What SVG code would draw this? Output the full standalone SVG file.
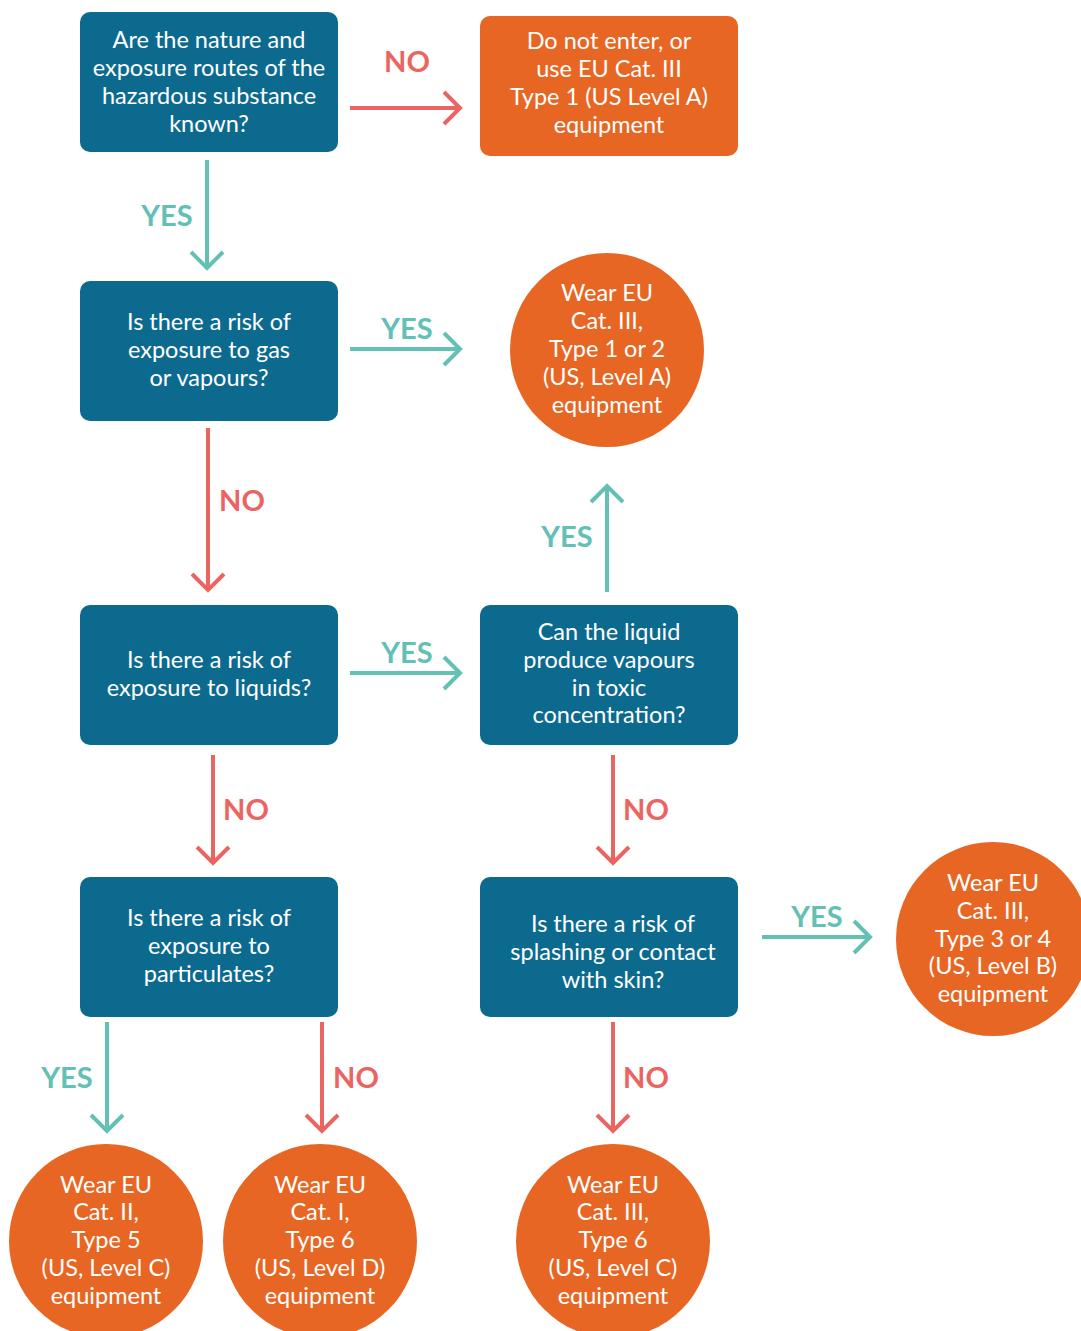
<svg xmlns="http://www.w3.org/2000/svg" width="1081" height="1331" viewBox="0 0 1081 1331">
<defs>
<style>
.q{fill:#0d6a8f}
.o{fill:#e86624}
.t{font-family:Lato,"Open Sans",sans-serif;font-size:23.5px;fill:#fff;text-anchor:middle}
.lb{font-family:Lato,"Open Sans",sans-serif;font-size:29px;font-weight:bold;text-anchor:middle}
.y{fill:#63c0b5}
.n{fill:#ec6461}
.ly{stroke:#63c0b5;stroke-width:4;fill:none}
.ln{stroke:#ec6461;stroke-width:4;fill:none}
</style>
</defs>
<g id="connectors">
<path class="ln" d="M350,108 H460 M444,92 L460,108 L444,124"/>
<text class="lb n" x="407" y="72">NO</text>
<path class="ly" d="M207,160 V268 M191,252 L207,268 L223,252"/>
<text class="lb y" x="167" y="226">YES</text>
<path class="ly" d="M350,349 H460 M444,333 L460,349 L444,365"/>
<text class="lb y" x="407" y="339">YES</text>
<path class="ln" d="M208,428 V590 M192,574 L208,590 L224,574"/>
<text class="lb n" x="242" y="511">NO</text>
<path class="ly" d="M350,673 H460 M444,657 L460,673 L444,689"/>
<text class="lb y" x="407" y="663">YES</text>
<path class="ly" d="M607,592 V486 M591,502 L607,486 L623,502"/>
<text class="lb y" x="567" y="547">YES</text>
<path class="ln" d="M213,755 V863 M197,847 L213,863 L229,847"/>
<text class="lb n" x="246" y="820">NO</text>
<path class="ln" d="M613,755 V863 M597,847 L613,863 L629,847"/>
<text class="lb n" x="646" y="820">NO</text>
<path class="ly" d="M762,937 H870 M854,921 L870,937 L854,953"/>
<text class="lb y" x="817" y="927">YES</text>
<path class="ly" d="M107,1022 V1131 M91,1115 L107,1131 L123,1115"/>
<text class="lb y" x="67" y="1088">YES</text>
<path class="ln" d="M322,1022 V1131 M306,1115 L322,1131 L338,1115"/>
<text class="lb n" x="356" y="1088">NO</text>
<path class="ln" d="M613,1022 V1131 M597,1115 L613,1131 L629,1115"/>
<text class="lb n" x="646" y="1088">NO</text>
</g>
<g id="q1">
<rect class="q" x="80" y="12" width="258" height="140" rx="10"/>
<text class="t" x="209" y="48">Are the nature and</text>
<text class="t" x="209" y="76">exposure routes of the</text>
<text class="t" x="209" y="104">hazardous substance</text>
<text class="t" x="209" y="132">known?</text>
</g>
<g id="r0">
<rect class="o" x="480" y="16" width="258" height="140" rx="10"/>
<text class="t" x="609" y="49">Do not enter, or</text>
<text class="t" x="609" y="77">use EU Cat. III</text>
<text class="t" x="609" y="105">Type 1 (US Level A)</text>
<text class="t" x="609" y="133">equipment</text>
</g>
<g id="q2">
<rect class="q" x="80" y="281" width="258" height="140" rx="10"/>
<text class="t" x="209" y="330">Is there a risk of</text>
<text class="t" x="209" y="358">exposure to gas</text>
<text class="t" x="209" y="386">or vapours?</text>
</g>
<g id="rA">
<circle class="o" cx="607" cy="350" r="97"/>
<text class="t" x="607" y="301">Wear EU</text>
<text class="t" x="607" y="329">Cat. III,</text>
<text class="t" x="607" y="357">Type 1 or 2</text>
<text class="t" x="607" y="385">(US, Level A)</text>
<text class="t" x="607" y="413">equipment</text>
</g>
<g id="q3">
<rect class="q" x="80" y="605" width="258" height="140" rx="10"/>
<text class="t" x="209" y="668">Is there a risk of</text>
<text class="t" x="209" y="696">exposure to liquids?</text>
</g>
<g id="q4">
<rect class="q" x="480" y="605" width="258" height="140" rx="10"/>
<text class="t" x="609" y="640">Can the liquid</text>
<text class="t" x="609" y="668">produce vapours</text>
<text class="t" x="609" y="696">in toxic</text>
<text class="t" x="609" y="723">concentration?</text>
</g>
<g id="q5">
<rect class="q" x="80" y="877" width="258" height="140" rx="10"/>
<text class="t" x="209" y="926">Is there a risk of</text>
<text class="t" x="209" y="954">exposure to</text>
<text class="t" x="209" y="982">particulates?</text>
</g>
<g id="q6">
<rect class="q" x="480" y="877" width="258" height="140" rx="10"/>
<text class="t" x="613" y="932">Is there a risk of</text>
<text class="t" x="613" y="960">splashing or contact</text>
<text class="t" x="613" y="988">with skin?</text>
</g>
<g id="rB">
<circle class="o" cx="993" cy="939" r="97"/>
<text class="t" x="993" y="891">Wear EU</text>
<text class="t" x="993" y="919">Cat. III,</text>
<text class="t" x="993" y="947">Type 3 or 4</text>
<text class="t" x="993" y="974">(US, Level B)</text>
<text class="t" x="993" y="1002">equipment</text>
</g>
<g id="rC">
<circle class="o" cx="106" cy="1241" r="97"/>
<text class="t" x="106" y="1193">Wear EU</text>
<text class="t" x="106" y="1220">Cat. II,</text>
<text class="t" x="106" y="1248">Type 5</text>
<text class="t" x="106" y="1276">(US, Level C)</text>
<text class="t" x="106" y="1304">equipment</text>
</g>
<g id="rD">
<circle class="o" cx="320" cy="1241" r="97"/>
<text class="t" x="320" y="1193">Wear EU</text>
<text class="t" x="320" y="1220">Cat. I,</text>
<text class="t" x="320" y="1248">Type 6</text>
<text class="t" x="320" y="1276">(US, Level D)</text>
<text class="t" x="320" y="1304">equipment</text>
</g>
<g id="rE">
<circle class="o" cx="613" cy="1241" r="97"/>
<text class="t" x="613" y="1193">Wear EU</text>
<text class="t" x="613" y="1220">Cat. III,</text>
<text class="t" x="613" y="1248">Type 6</text>
<text class="t" x="613" y="1276">(US, Level C)</text>
<text class="t" x="613" y="1304">equipment</text>
</g>
</svg>
